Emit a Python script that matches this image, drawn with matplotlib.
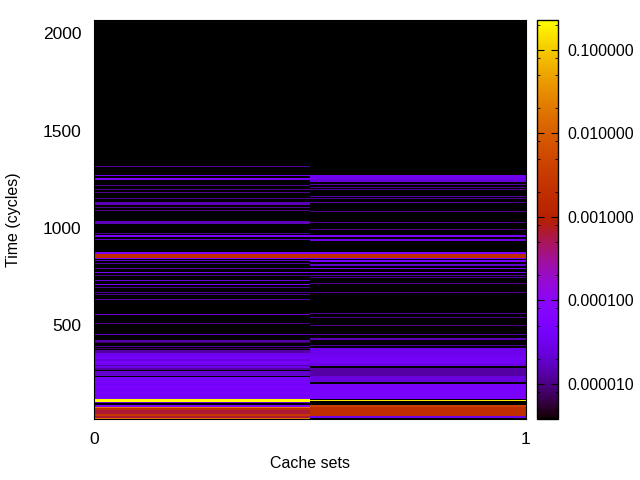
import numpy as np
import matplotlib
matplotlib.use("Agg")
import matplotlib.pyplot as plt
from matplotlib.colors import ListedColormap, LogNorm
from matplotlib.ticker import LogLocator, NullFormatter, FormatStrFormatter

plt.rcParams['font.family'] = ['Liberation Sans', 'DejaVu Sans']

# Each set: band start (cycles), band stop (cycles), probability
set0_start = [1315,1268,1248,1217,1197,1181,1150,1120,1104,1089,1022,971,955,940,
              868,847,842,832,816,791,770,755,727,709,693,667,657,632,554,508,452,
              414,411,390,380,
              360,344,329,319,298,293,283,270,
              240,
              215,205,190,175,160,145,130,120,
              109,103,
              80,74,64,42,36,26,18]
set0_stop  = [1320,1273,1257,1222,1202,1186,1155,1133,1109,1094,1036,976,964,945,
              878,867,847,837,821,796,775,760,733,714,698,672,662,637,559,513,457,
              426,416,395,385,
              375,360,344,329,319,298,293,283,
              264,
              235,215,205,190,175,160,145,130,
              120,108,
              92,80,74,64,42,36,25]
set0_prob  = [1.1e-5,3e-5,5e-5,1.1e-5,1.1e-5,1.1e-5,1.1e-5,1.6e-5,1.1e-5,1.1e-5,1.6e-5,1.1e-5,5e-5,1.8e-5,
              5.5e-5,1.8e-3,4.5e-5,1.8e-5,1.3e-5,1.3e-5,5e-5,1.1e-5,2.5e-5,4.5e-5,1.1e-5,1.1e-5,1.1e-5,1.3e-5,2.5e-5,1.1e-5,1.8e-5,
              1.3e-5,8e-6,1.3e-5,8e-6,
              1.3e-5,3e-5,4e-5,2.5e-5,4e-5,1.3e-5,3e-5,1.3e-5,
              2e-5,
              4e-5,5e-5,4e-5,5e-5,4e-5,5e-5,4e-5,5e-5,
              0.228,2.5e-5,
              5.5e-5,0.02,1.8e-3,6.5e-4,3e-3,6.5e-4,0.02]

set1_start = [1254,1236,1222,1207,1197,1161,1150,1130,1084,1027,991,955,935,
              868,847,842,827,806,791,770,755,745,714,667,560,539,498,452,
              426,395,
              340,325,305,289,
              240,207,
              120,
              110,
              78,34,23]
set1_stop  = [1270,1254,1227,1212,1202,1166,1155,1135,1089,1032,996,964,945,
              878,867,847,837,816,796,775,760,750,719,672,565,544,503,457,
              436,400,
              384,340,325,305,
              280,240,
              198,
              117,
              92,78,34]
set1_prob  = [3.2e-5,2.4e-5,1.3e-5,1.1e-5,1.1e-5,1.3e-5,1.1e-5,1.3e-5,1.1e-5,1.1e-5,1.1e-5,5.5e-5,2.8e-5,
              5.5e-5,1.8e-3,4.5e-5,5e-5,2e-5,5e-5,5e-5,1.3e-5,1.1e-5,1.1e-5,1.1e-5,1.3e-5,1.1e-5,1.1e-5,1.3e-5,
              1.6e-5,1.1e-5,
              3e-5,3.5e-5,4e-5,2.8e-5,
              1.3e-5,2.4e-5,
              4.5e-5,
              0.15,
              4e-3,1.9e-3,3e-5]

x_ticks = [0, 1]
y_ticks = [500, 1000, 1500, 2000]
cb_ticks = [1e-5, 1e-4, 1e-3, 1e-2, 1e-1]
p_min, p_max = 3.8e-6, 0.228
t_min, t_max = 19, 2069

# gnuplot default palette (rgbformulae 7,5,15)
g = np.linspace(0, 1, 512)
palette = ListedColormap(np.column_stack([np.sqrt(g), g**3, np.clip(np.sin(2*np.pi*g), 0, 1)]))
palette.set_bad('black')
norm = LogNorm(p_min, p_max)

W, H = 640, 480
fig = plt.figure(figsize=(6.4, 4.8), dpi=100)
ax = fig.add_axes([94/W, 1-419/H, 432/W, 399/H])
ax.set_facecolor('black')

rows = 399
centres = t_min + (np.arange(rows) + 0.5) * (t_max - t_min) / rows
grid = np.full((rows, 2), np.nan)
columns = [(set0_start, set0_stop, set0_prob), (set1_start, set1_stop, set1_prob)]
for i, (start, stop, prob) in enumerate(columns):
    for a, b, p in zip(start, stop, prob):
        grid[(centres >= a - 0.2) & (centres < b + 0.2), i] = p

ax.imshow(grid, extent=[0, 1, t_min, t_max], origin='lower', aspect='auto',
          interpolation='nearest', cmap=palette, norm=norm)

ax.set_xlim(0, 1)
ax.set_ylim(t_min, t_max)
ax.set_xticks(x_ticks)
ax.set_yticks(y_ticks)
ax.tick_params(axis='x', length=0, labelsize=12.5, pad=9)
ax.tick_params(axis='y', length=0, labelsize=12.5, pad=9)
ax.set_xlabel('Cache sets', fontsize=11.5)
ax.set_ylabel('Time (cycles)', fontsize=11.5)
ax.xaxis.set_label_coords(0.5, (419-464)/399)
ax.yaxis.set_label_coords((14-94)/432, 0.5)
ax.xaxis.label.set_verticalalignment('center')
ax.yaxis.label.set_verticalalignment('center')

cax = fig.add_axes([537/W, 1-419/H, 21/W, 399/H])
cb = fig.colorbar(plt.cm.ScalarMappable(norm=norm, cmap=palette), cax=cax)
cb.set_ticks(cb_ticks)
cax.yaxis.set_major_formatter(FormatStrFormatter('%f'))
cax.yaxis.set_minor_locator(LogLocator(base=10, subs=[2, 5, 8], numticks=12))
cax.yaxis.set_minor_formatter(NullFormatter())
cax.tick_params(axis='y', which='major', direction='in', left=True, right=True,
                length=5, labelsize=11.5, pad=7)
cax.tick_params(axis='y', which='minor', direction='in', left=True, right=True, length=2.5)
cb.outline.set_linewidth(1)

fig.savefig('out.png', dpi=100)
